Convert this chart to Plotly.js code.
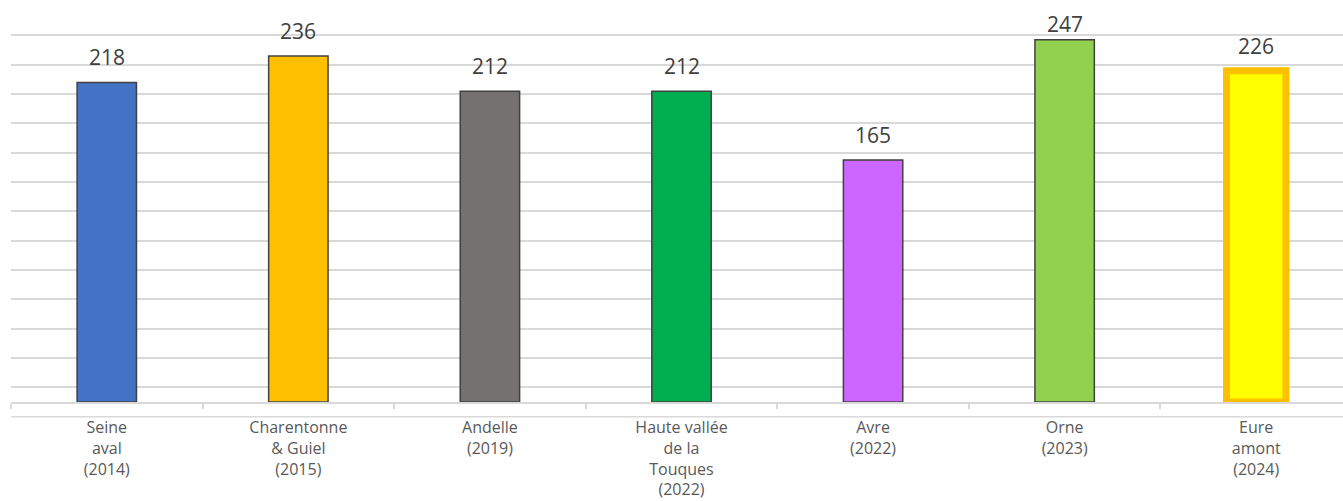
<!DOCTYPE html>
<html>
<head>
<meta charset="utf-8">
<script src="https://cdn.plot.ly/plotly-3.0.1.min.js"></script>
<style>html,body{margin:0;padding:0;background:#fff;overflow:hidden}</style>
</head>
<body>
<div id="chart" style="width:1343px;height:501px"></div>
<script>
const categories = [
  "Seine<br>aval<br>(2014)",
  "Charentonne<br>& Guiel<br>(2015)",
  "Andelle<br>(2019)",
  "Haute vallée<br>de la<br>Touques<br>(2022)",
  "Avre<br>(2022)",
  "Orne<br>(2023)",
  "Eure<br>amont<br>(2024)"
];
const values = [218, 236, 212, 212, 165, 247, 226];
const fillColors = ["#4472C4", "#FFC000", "#767171", "#00B050", "#CC66FF", "#92D050", "#FFFF00"];
const lineColors = ["#404040", "#404040", "#404040", "#404040", "#404040", "#404040", "#FFC000"];
const lineWidths = [1.5, 1.5, 1.5, 1.5, 1.5, 1.5, 7];

const trace = {
  type: "bar",
  x: categories,
  y: values,
  width: 0.31,
  marker: {color: fillColors, line: {color: lineColors, width: lineWidths}},
  hoverinfo: "x+y"
};

// Labels above bars; the tallest one is held inside the chart area (as in the source)
const annotations = values.map((v, i) => ({
  x: categories[i], y: v, xref: "x", yref: "y",
  text: String(v), showarrow: false, yanchor: "bottom",
  yshift: v > 240 ? 0 : 9,
  font: {family: "Open Sans, sans-serif", size: 21, color: "#404040"}
}));

const layout = {
  width: 1343, height: 501,
  margin: {l: 11, r: 0, t: 34, b: 99, pad: 0},
  paper_bgcolor: "#ffffff", plot_bgcolor: "#ffffff",
  showlegend: false,
  xaxis: {
    type: "category",
    range: [-0.5, 6.453],
    showline: true, linecolor: "#d9d9d9", linewidth: 1.5,
    ticks: "outside", tickson: "boundaries", ticklen: 5, tickcolor: "#d9d9d9", tickwidth: 1.5,
    ticklabelstandoff: 10,
    showgrid: false,
    tickfont: {family: "Open Sans, sans-serif", size: 16, color: "#595959"},
    fixedrange: true
  },
  yaxis: {
    range: [0, 251],
    tick0: 10, dtick: 20,
    showgrid: true, gridcolor: "#d9d9d9", gridwidth: 1.5,
    showticklabels: false, zeroline: false, showline: false, ticks: "",
    fixedrange: true
  },
  shapes: [{
    type: "line", xref: "paper", yref: "paper",
    x0: 0, x1: 1, y0: -0.04, y1: -0.04,
    line: {color: "#d9d9d9", width: 1.5}
  }],
  annotations: annotations
};

Plotly.newPlot("chart", [trace], layout, {displayModeBar: false, responsive: false});
</script>
</body>
</html>
